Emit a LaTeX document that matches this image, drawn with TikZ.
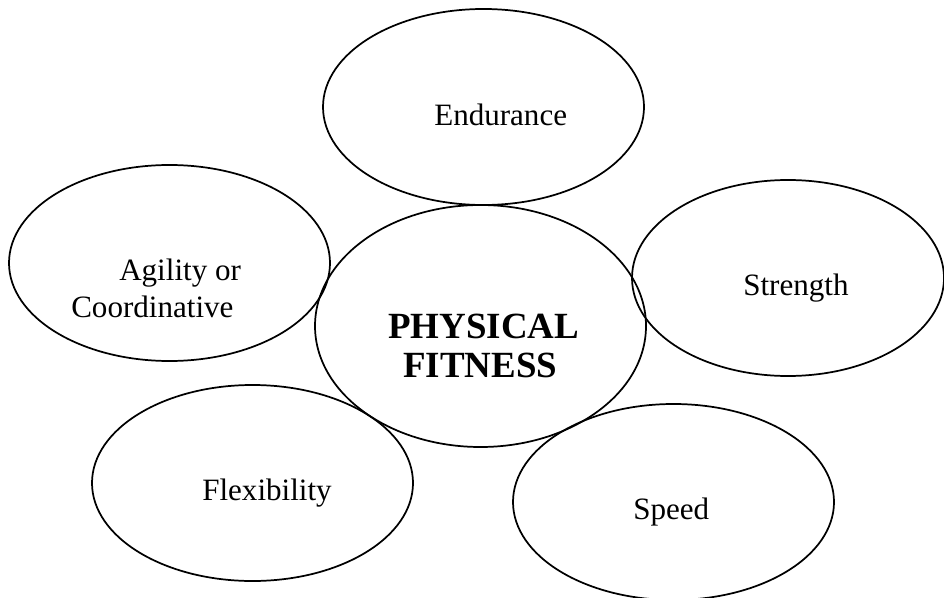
\documentclass[tikz,border=0pt]{standalone}
\usepackage{fontspec}
\setmainfont{Liberation Serif}
\usetikzlibrary{shapes.geometric}
\begin{document}
\begin{tikzpicture}[x=0.75pt, y=-0.75pt, line join=round, line cap=round,
	oval/.style={draw, ellipse, line width=1.3pt, inner sep=0pt},
	word/.style={anchor=base west, inner sep=0pt, font=\fontsize{23.3}{28}\selectfont},
	title/.style={anchor=base west, inner sep=0pt, font=\fontsize{27.7}{38}\selectfont\bfseries}]
	\useasboundingbox (0,0) rectangle (944,598);
	% the six ovals
	\foreach \n/\x/\y/\w/\h in {endu/483.5/107/321/196, agil/169.5/263/321/196, fit/480.5/326/331/242,
		stre/788/278/312/196, flex/252.5/483/321/196, spee/673.5/502/321/196}
	\node[oval, minimum width=\w*0.75pt, minimum height=\h*0.75pt] (\n) at (\x,\y) {};
	% their texts
	\foreach \n/\x/\y/\t in {tendu/434/126/Endurance, tagil/119/281/Agility or, tcoor/71/317/Coordinative,
		tstre/743/295/Strength, tflex/202/500/Flexibility, tspee/633/519/Speed}
	\node[word] (\n) at (\x,\y) {\t};
	\node[title] (tphys) at (388,338) {PHYSICAL};
	\node[title] (tfit) at (403,377) {FITNESS};
\end{tikzpicture}
\end{document}
